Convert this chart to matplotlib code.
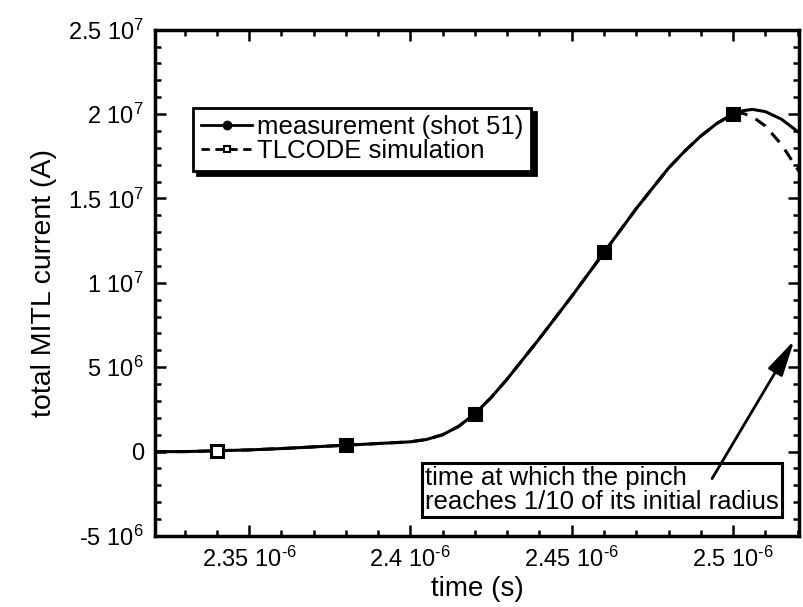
import math

import matplotlib
matplotlib.use("Agg")
import matplotlib.pyplot as plt
from matplotlib.ticker import FuncFormatter, MultipleLocator
import numpy as np

plt.rcParams["font.family"] = ["Liberation Sans", "DejaVu Sans"]
plt.rcParams["mathtext.fontset"] = "custom"
plt.rcParams["mathtext.rm"] = "Liberation Sans"
plt.rcParams["mathtext.it"] = "Liberation Sans"
plt.rcParams["mathtext.sf"] = "Liberation Sans"

# time in microseconds, current in MA
meas_t = [2.3209, 2.33, 2.34, 2.35, 2.36, 2.37, 2.38, 2.39, 2.40, 2.405, 2.41, 2.415,
          2.42, 2.425, 2.43, 2.44, 2.45, 2.46, 2.47, 2.475, 2.48, 2.485, 2.49, 2.495,
          2.50, 2.503, 2.506, 2.51, 2.515, 2.5205]
meas_i = [0.0, 0.0, 0.05, 0.1, 0.18, 0.28, 0.38, 0.48, 0.58, 0.72, 1.0, 1.5,
          2.25, 3.2, 4.3, 6.7, 9.2, 11.8, 14.4, 15.6, 16.8, 17.8, 18.7, 19.45,
          20.0, 20.2, 20.28, 20.15, 19.7, 18.9]

sim_t = [2.3209, 2.33, 2.34, 2.35, 2.36, 2.37, 2.38, 2.39, 2.40, 2.405, 2.41, 2.415,
         2.42, 2.425, 2.43, 2.44, 2.45, 2.46, 2.47, 2.475, 2.48, 2.485, 2.49, 2.495,
         2.50, 2.503, 2.506, 2.51, 2.515, 2.5205]
sim_i = [0.0, 0.0, 0.05, 0.1, 0.18, 0.28, 0.38, 0.48, 0.58, 0.72, 1.0, 1.5,
         2.25, 3.2, 4.3, 6.7, 9.2, 11.8, 14.4, 15.6, 16.8, 17.8, 18.7, 19.45,
         20.0, 20.05, 19.85, 19.3, 18.2, 16.6]

meas_mark_t = [2.38, 2.42, 2.46, 2.50]
meas_mark_i = [0.38, 2.25, 11.8, 20.0]
sim_mark_t = [2.34, 2.38, 2.42, 2.46, 2.50]
sim_mark_i = [0.05, 0.38, 2.25, 11.8, 20.0]

pinch_t = 2.519
pinch_i = 6.6


def sci_label(v, pos):
  if abs(v) < 1e-30:
    return "0"
  e = int(math.floor(math.log10(abs(v)) + 1e-9))
  m = round(v / 10 ** e, 4)
  sign = "\u2010" if e < 0 else ""
  return f"{m:g} 10$^{{{sign}{abs(e)}}}$"


fig = plt.figure(figsize=(8.04, 6.07), dpi=100)
ax = fig.add_axes([0.193, 0.117, 0.801, 0.834])

ax.plot(np.array(meas_t) * 1e-6, np.array(meas_i) * 1e6, "-", color="black", lw=2.2)
ax.plot(np.array(sim_t) * 1e-6, np.array(sim_i) * 1e6, "--", color="black", lw=2.2,
        dashes=(4, 3))
ax.plot(np.array(sim_mark_t) * 1e-6, np.array(sim_mark_i) * 1e6, "s", ms=8,
        mfc="white", mec="black", mew=2.2)
ax.plot(np.array(meas_mark_t) * 1e-6, np.array(meas_mark_i) * 1e6, "s", ms=8,
        color="black")

# legend proxies
h1, = ax.plot([], [], "-", color="black", lw=2, marker="o", ms=6)
h2, = ax.plot([], [], "--", color="black", lw=2, marker="s", ms=5, mfc="white",
              mec="black", mew=1.5, dashes=(3, 2))
leg = ax.legend([h1, h2], ["measurement (shot 51)", "TLCODE simulation"],
                loc="upper left", bbox_to_anchor=(0.059, 0.846), borderaxespad=0,
                fontsize=18.5, handlelength=2.0, handletextpad=0.2, labelspacing=0.0,
                borderpad=0.3, fancybox=False, framealpha=1,
                shadow={"color": "black", "alpha": 1, "ox": 3, "oy": -3})
leg.get_frame().set_edgecolor("black")
leg.get_frame().set_linewidth(2)

ax.text(2.4045e-6, -2.28e6, "time at which the pinch\nreaches 1/10 of its initial radius",
        fontsize=18.5, ha="left", va="center", linespacing=1.0,
        bbox=dict(boxstyle="square,pad=0.12", fc="white", ec="black", lw=2.2))
ax.annotate("", xy=(pinch_t * 1e-6, pinch_i * 1e6), xytext=(2.4935e-6, -1.6e6),
            arrowprops=dict(arrowstyle="-|>,head_length=1.1,head_width=0.25",
                            color="black", lw=2, mutation_scale=20, shrinkA=0, shrinkB=0))

ax.set_xlim(2.3209e-6, 2.5205e-6)
ax.set_ylim(-5e6, 2.5e7)
ax.xaxis.set_major_locator(MultipleLocator(0.05e-6))
ax.xaxis.set_minor_locator(MultipleLocator(0.01e-6))
ax.yaxis.set_major_locator(MultipleLocator(5e6))
ax.yaxis.set_minor_locator(MultipleLocator(1e6))
ax.xaxis.set_major_formatter(FuncFormatter(sci_label))
ax.yaxis.set_major_formatter(FuncFormatter(sci_label))

ax.tick_params(which="both", direction="in", top=True, right=True, width=1.8,
               labelsize=17)
ax.tick_params(which="major", length=8, pad=8)
ax.tick_params(which="minor", length=4)
for s in ax.spines.values():
  s.set_linewidth(2.5)

ax.set_xlabel("time (s)", fontsize=20, labelpad=3)
ax.set_ylabel("total MITL current (A)", fontsize=20.5, labelpad=8)

fig.savefig("out.png", dpi=100)
